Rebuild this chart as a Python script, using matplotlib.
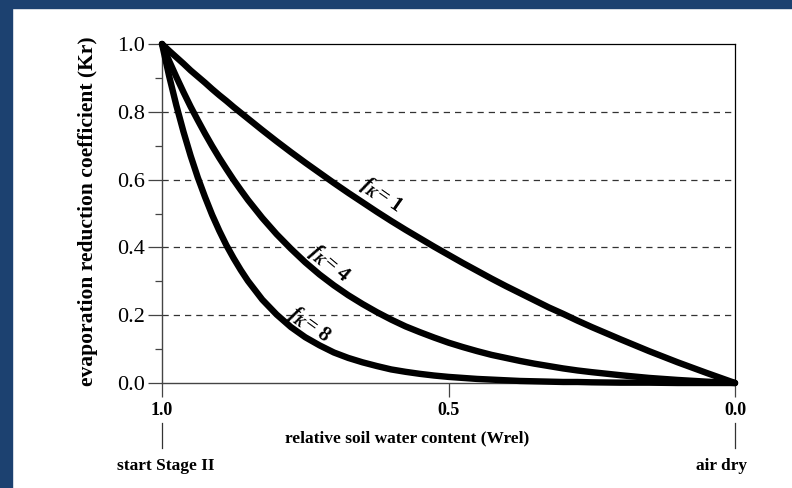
import matplotlib
matplotlib.use("Agg")
import matplotlib.pyplot as plt
from matplotlib.patches import Rectangle

plt.rcParams['font.family'] = ['Liberation Serif', 'DejaVu Serif']
plt.rcParams['mathtext.fontset'] = 'custom'
plt.rcParams['mathtext.it'] = 'Liberation Serif:italic:bold'
plt.rcParams['mathtext.rm'] = 'Liberation Serif:bold'

# relative soil water content (Wrel)
wrel = [1.0, 0.9875, 0.975, 0.9625, 0.95, 0.9375, 0.925, 0.9125, 0.9, 0.8875, 0.875,
        0.8625, 0.85, 0.825, 0.8, 0.775, 0.75, 0.725, 0.7, 0.675, 0.65, 0.625, 0.6,
        0.575, 0.55, 0.525, 0.5, 0.475, 0.45, 0.425, 0.4, 0.375, 0.35, 0.325, 0.3,
        0.275, 0.25, 0.2, 0.15, 0.1, 0.05, 0.0]

# evaporation reduction coefficient (Kr) for each curve
kr_f1 = [1.0, 0.980, 0.961, 0.942, 0.922, 0.904, 0.886, 0.867, 0.849, 0.832, 0.814,
         0.797, 0.780, 0.746, 0.713, 0.681, 0.650, 0.620, 0.590, 0.561, 0.533, 0.505, 0.478,
         0.452, 0.427, 0.402, 0.378, 0.354, 0.331, 0.308, 0.286, 0.265, 0.244, 0.223, 0.204,
         0.184, 0.165, 0.129, 0.094, 0.061, 0.030, 0.0]
kr_f4 = [1.0, 0.950, 0.903, 0.858, 0.815, 0.775, 0.736, 0.699, 0.664, 0.631, 0.599,
         0.569, 0.540, 0.487, 0.439, 0.396, 0.356, 0.320, 0.288, 0.259, 0.233, 0.209, 0.187,
         0.167, 0.150, 0.134, 0.119, 0.106, 0.094, 0.083, 0.074, 0.065, 0.057, 0.050, 0.043,
         0.037, 0.032, 0.023, 0.015, 0.009, 0.004, 0.0]
kr_f8 = [1.0, 0.905, 0.819, 0.741, 0.670, 0.606, 0.549, 0.496, 0.449, 0.406, 0.368,
         0.333, 0.301, 0.246, 0.202, 0.165, 0.135, 0.111, 0.090, 0.074, 0.061, 0.050, 0.040,
         0.033, 0.027, 0.022, 0.018, 0.015, 0.012, 0.010, 0.008, 0.006, 0.005, 0.004, 0.003,
         0.003, 0.002, 0.001, 0.001, 0.0, 0.0, 0.0]

curve_labels = [r"$f_K$= $1$", r"$f_K$= $4$", r"$f_K$= $8$"]
label_pos = [(0.616, 0.555), (0.707, 0.352), (0.742, 0.171)]   # (Wrel, Kr) of label centres
label_rot = [-35, -40, -36]

grid_levels = [0.2, 0.4, 0.6, 0.8]
x_ticks = [1.0, 0.5, 0.0]
x_ticklabels = ["1.0", "0.5", "0.0"]
end_marks = [1.0, 0.0]
end_labels = ["start Stage II", "air dry"]
end_offsets = [4, -13]   # pixel shift of the end labels

fig = plt.figure(figsize=(7.92, 4.88), dpi=100)
navy = '#1c4170'
fig.patches.append(Rectangle((0, 1 - 8 / 488), 1, 8 / 488, transform=fig.transFigure,
                             color=navy, zorder=0))
fig.patches.append(Rectangle((0, 0), 12 / 792, 1, transform=fig.transFigure,
                             color=navy, zorder=0))

ax = fig.add_axes([162 / 792, 1 - 383 / 488, 573 / 792, 339 / 488])

for lev in grid_levels:
    ax.axhline(lev, color='#333333', lw=0.9, ls=(0, (5, 4)), zorder=1)

for kr in (kr_f1, kr_f4, kr_f8):
    ax.plot(wrel, kr, color='black', lw=4.6, solid_capstyle='round',
            solid_joinstyle='round', clip_on=False, zorder=3)

for txt, (w, k), rot in zip(curve_labels, label_pos, label_rot):
    ax.text(w, k, txt, rotation=rot, ha='center', va='center', fontsize=15,
            fontweight='bold', fontstyle='italic', rotation_mode='anchor', zorder=4)

ax.set_xlim(1.0, 0.0)
ax.set_ylim(0.0, 1.0)
ax.set_xticks(x_ticks)
ax.set_xticklabels(x_ticklabels, fontweight='bold', fontsize=13)
ax.set_yticks([0.0, 0.2, 0.4, 0.6, 0.8, 1.0])
ax.set_yticklabels(["0.0", "0.2", "0.4", "0.6", "0.8", "1.0"], fontsize=16)
ax.set_yticks([0.1, 0.3, 0.5, 0.7, 0.9], minor=True)
ax.tick_params(axis='both', which='major', direction='out', length=10, width=0.9,
               color='#444444')
ax.tick_params(axis='y', which='minor', direction='out', length=5, width=0.9,
               color='#444444')
ax.tick_params(axis='y', pad=2)
ax.tick_params(axis='x', pad=4)

for side in ['left', 'bottom']:
    ax.spines[side].set_color('#444444')
    ax.spines[side].set_linewidth(1.0)
for side in ['top', 'right']:
    ax.spines[side].set_color('black')
    ax.spines[side].set_linewidth(0.9)

ax.set_xlabel("relative soil water content (Wrel)", fontweight='bold', fontsize=12.5)
ax.xaxis.set_label_coords(0.428, -0.163)
ax.xaxis.label.set_va('center')
ax.set_ylabel("evaporation reduction coefficient (Kr)", fontweight='bold', fontsize=15.5)
ax.yaxis.set_label_coords(-0.13, 0.507)
ax.yaxis.label.set_va('center')

trans = ax.get_xaxis_transform()
for x, lab, off in zip(end_marks, end_labels, end_offsets):
    ax.plot([x, x], [-0.118, -0.192], color='#333333', lw=0.9, transform=trans,
            clip_on=False)
    ax.annotate(lab, xy=(x, -0.245), xycoords=trans, xytext=(off, 0),
                textcoords='offset pixels', ha='center', va='center',
                fontweight='bold', fontsize=12.5, annotation_clip=False)

fig.savefig("out.png", dpi=100)
